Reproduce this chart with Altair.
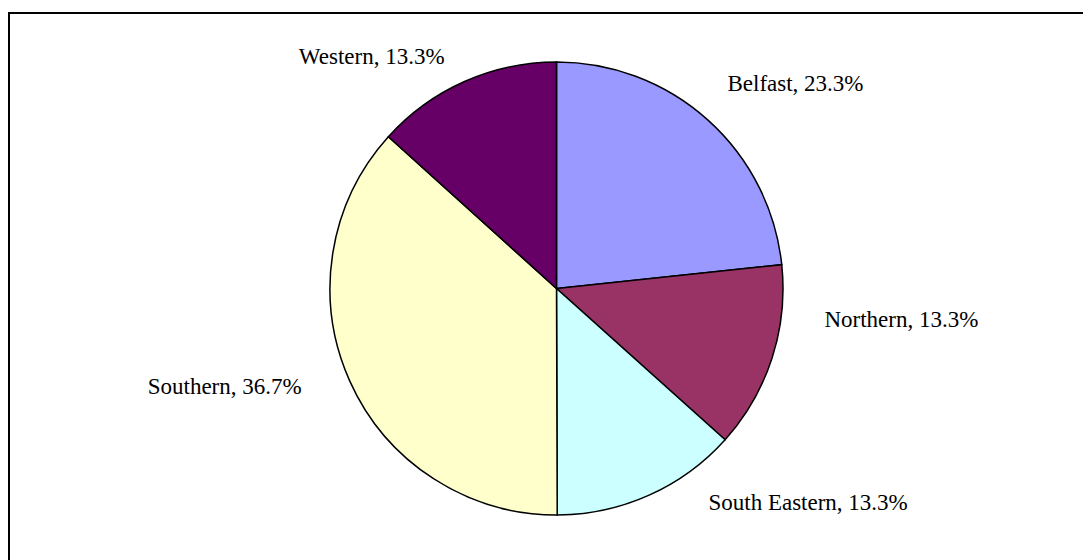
import altair as alt
import pandas as pd

# Data
regions = ["Belfast", "Northern", "South Eastern", "Southern", "Western"]
shares = [23.3, 13.3, 13.3, 36.7, 13.3]
colors = ["#9999FF", "#993366", "#CCFFFF", "#FFFFCC", "#660066"]

df = pd.DataFrame({"region": regions, "share": shares, "idx": list(range(len(regions)))})

# Layout
W, H = 1075, 548
CX, CY = 548.5, 276.5      # pie centre inside the view
R = 226.5                  # pie radius
LR = 290                   # label anchor radius
label_nudge = {
    "Belfast": (45, 18),
    "Northern": (69, -51),
    "South Eastern": (133, -43),
    "Southern": (-67, -12.5),
    "Western": (-67, 41),
}

base = alt.Chart(df).encode(
    theta=alt.Theta("share:Q", stack=True),
    order=alt.Order("idx:Q"),
    x=alt.value(CX),
    y=alt.value(CY),
)

arcs = base.mark_arc(outerRadius=R, stroke="black", strokeWidth=1.5).encode(
    color=alt.Color("region:N", scale=alt.Scale(domain=regions, range=colors),
                    legend=None, sort=None)
)

texts = []
for r in regions:
    dx, dy = label_nudge[r]
    t = base.mark_text(
        radius=LR, font="Liberation Serif", fontSize=23, color="black",
        align="center", baseline="alphabetic", dx=dx, dy=dy,
    ).transform_calculate(
        label=f"datum.region == '{r}' ? datum.region + ', ' + format(datum.share, '.1f') + '%' : ''"
    ).encode(text="label:N")
    texts.append(t)

frame = alt.Chart(alt.Data(values=[{}]))
top_edge = frame.mark_rule(stroke="black", strokeWidth=2).encode(
    x=alt.value(0), x2=alt.value(W), y=alt.value(1))
left_edge = frame.mark_rule(stroke="black", strokeWidth=2).encode(
    x=alt.value(1), y=alt.value(0), y2=alt.value(H))

chart = alt.layer(top_edge, left_edge, arcs, *texts).properties(
    width=W, height=H,
    padding={"left": 0, "top": 4, "right": 0, "bottom": 0},
    autosize=alt.AutoSizeParams(type="none"),
).configure_view(strokeOpacity=0)

chart.save("out.html", embed_options={"renderer": "svg", "actions": False})
